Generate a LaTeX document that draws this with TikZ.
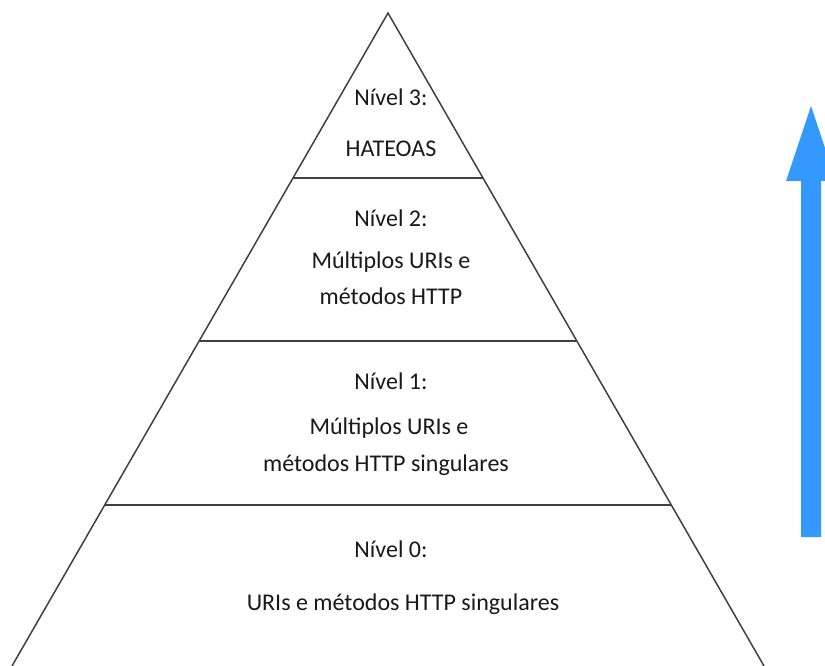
\documentclass[tikz,border=0pt]{standalone}
\usepackage{fontspec}
\setmainfont{Carlito}
\begin{document}
\begin{tikzpicture}[x=1pt,y=-1pt,
  edge/.style={draw=black!75, line width=1.5pt},
  lbl/.style={font=\fontsize{24}{28}\selectfont, text=black!90, inner sep=0pt, anchor=center}]
\useasboundingbox (0,0) rectangle (825,666);
% pyramid outline
\coordinate (apex) at (388,13);
\coordinate (bl) at (12,666);
\coordinate (br) at (764,666);
\draw[edge, line join=miter] (bl) -- (apex) -- (br);
% level dividers
\coordinate (l3a) at (293,178); \coordinate (l3b) at (483,178);
\coordinate (l2a) at (199,341); \coordinate (l2b) at (577,341);
\coordinate (l1a) at (105,505); \coordinate (l1b) at (671,505);
\draw[edge] (l3a) -- (l3b);
\draw[edge] (l2a) -- (l2b);
\draw[edge] (l1a) -- (l1b);
% labels
\node[lbl] (n3a) at (391,97) {Nível 3:};
\node[lbl] (n3b) at (391,149) {HATEOAS};
\node[lbl] (n2a) at (391,218) {Nível 2:};
\node[lbl] (n2b) at (391,262) {Múltiplos URIs e};
\node[lbl] (n2c) at (391,296) {métodos HTTP};
\node[lbl] (n1a) at (391,381) {Nível 1:};
\node[lbl] (n1b) at (389,428) {Múltiplos URIs e};
\node[lbl] (n1c) at (386,465) {métodos HTTP singulares};
\node[lbl] (n0a) at (391,549) {Nível 0:};
\node[lbl] (n0b) at (403,604) {URIs e métodos HTTP singulares};
% upward arrow
\definecolor{arrowblue}{RGB}{51,153,255}
\fill[arrowblue] (801,537) -- (801,181) -- (786,181) -- (811,106) -- (836,181) -- (821,181) -- (821,537) -- cycle;
\end{tikzpicture}
\end{document}
